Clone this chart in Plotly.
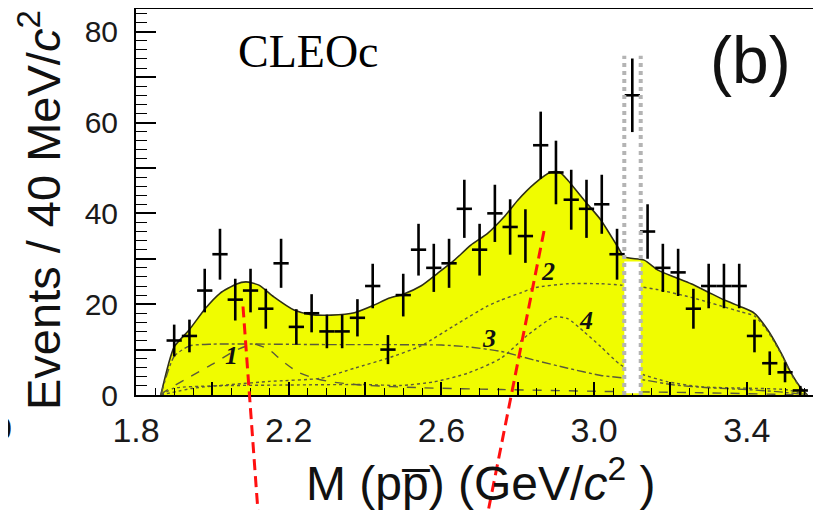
import plotly.graph_objects as go

# ---------------- data ----------------
bin_centers = [1.90, 1.94, 1.98, 2.02, 2.06, 2.10, 2.14, 2.18, 2.22, 2.26,
               2.30, 2.34, 2.38, 2.42, 2.46, 2.50, 2.54, 2.58, 2.62, 2.66,
               2.70, 2.74, 2.78, 2.82, 2.86, 2.90, 2.94, 2.98, 3.02, 3.06,
               3.10, 3.14, 3.18, 3.22, 3.26, 3.30, 3.34, 3.38, 3.42, 3.46,
               3.50, 3.54]
events = [12, 13, 23, 31, 21, 23, 19, 29, 15, 18,
          14, 14, 17, 24, 10, 22, 32, 28, 29, 41,
          32, 40, 37, 35, 55, 49, 43, 41, 42, 31,
          66, 36, 28, 27, 19, 24, 24, 24, 13, 7,
          5, 1]
event_errors = [3.5, 3.6, 4.8, 5.6, 4.6, 4.8, 4.4, 5.4, 3.9, 4.2,
                3.7, 3.7, 4.1, 4.9, 3.2, 4.7, 5.7, 5.3, 5.4, 6.4,
                5.7, 6.3, 6.1, 5.9, 7.4, 7.0, 6.6, 6.4, 6.5, 5.6,
                8.1, 6.0, 5.3, 5.2, 4.4, 4.9, 4.9, 4.9, 3.6, 2.6,
                2.2, 1.0]
half_bin = 0.02

fit_x = [1.865, 1.900, 1.939, 1.981, 2.020, 2.062, 2.088, 2.122, 2.161, 2.214,
         2.258, 2.311, 2.372, 2.424, 2.459, 2.503, 2.546, 2.590, 2.634, 2.677,
         2.721, 2.765, 2.800, 2.843, 2.887, 2.909, 2.931, 2.974, 3.018, 3.062,
         3.079, 3.131, 3.167, 3.210, 3.254, 3.298, 3.341, 3.385, 3.420, 3.455,
         3.490, 3.516, 3.542, 3.559]
fit_total = [0.0, 10.6, 14.3, 19.0, 22.4, 24.4, 24.9, 24.2, 21.6, 18.7,
             17.7, 17.6, 18.1, 19.8, 21.2, 22.3, 24.0, 26.8, 29.7, 33.0,
             35.6, 39.3, 42.9, 46.5, 49.1, 49.1, 47.3, 42.9, 38.5, 32.6,
             30.4, 29.7, 27.5, 26.0, 24.5, 22.7, 20.9, 19.4, 18.0, 14.3,
             9.2, 4.8, 1.5, 0.0]

comp1_x = [1.865, 1.874, 1.926, 2.005, 2.060, 2.110, 2.150, 2.180, 2.223, 2.267,
           2.311, 2.389, 2.546, 2.756, 3.018, 3.280, 3.559]
comp1_y = [0.0, 0.7, 3.3, 7.0, 9.8, 11.2, 9.9, 7.7, 5.1, 3.7,
           2.9, 2.2, 1.6, 1.2, 0.8, 0.5, 0.0]

comp2_x = [1.865, 1.950, 2.050, 2.150, 2.284, 2.372, 2.459, 2.546, 2.634, 2.721,
           2.756, 2.808, 2.843, 2.931, 3.018, 3.070, 3.122, 3.167, 3.254, 3.385,
           3.420, 3.455, 3.490, 3.516, 3.542, 3.559]
comp2_y = [0.0, 1.5, 2.3, 3.0, 3.7, 5.9, 8.1, 10.8, 15.3, 19.6,
           20.9, 22.5, 23.6, 24.5, 24.5, 24.2, 23.8, 23.2, 21.5, 18.3,
           17.4, 14.0, 9.0, 4.6, 1.4, 0.0]

comp3_x = [1.865, 1.900, 1.940, 2.000, 2.300, 2.600, 2.669, 2.756, 2.843, 2.931,
           3.018, 3.131, 3.210, 3.300, 3.400, 3.500, 3.559]
comp3_y = [0.0, 8.5, 10.8, 11.2, 11.1, 11.0, 10.6, 9.6, 7.7, 5.9,
           4.3, 3.3, 2.2, 1.6, 1.2, 0.6, 0.0]

comp4_x = [1.865, 1.900, 2.000, 2.200, 2.400, 2.494, 2.581, 2.669, 2.756, 2.826,
           2.896, 2.931, 2.974, 3.018, 3.070, 3.131, 3.193, 3.280, 3.400, 3.500,
           3.559]
comp4_y = [0.0, 1.5, 2.0, 2.2, 2.3, 2.1, 2.9, 4.8, 8.1, 13.2,
           17.2, 16.8, 13.9, 10.6, 6.6, 4.4, 2.9, 1.8, 1.5, 1.2,
           0.0]

comp_labels = ["1", "2", "3", "4"]
comp_label_x = [2.049, 2.878, 2.725, 2.979]
comp_label_y = [8.8, 27.1, 12.5, 16.5]

jpsi_window = [3.079, 3.122]
jpsi_line_top = 74.7

x_range = [1.8, 3.589]
y_range = [0, 85.0]
x_label_vals = [1.8, 2.2, 2.6, 3.0, 3.4]
x_mid_vals = [2.0, 2.4, 2.8, 3.2]
y_label_vals = [0, 20, 40, 60, 80]
y_mid_vals = [10, 30, 50, 70]

# ---------------- figure ----------------
# page has an 8px body margin: figure sized/positioned so the plot lands in place
PAGE_OFF = 8
W, H = 821 - PAGE_OFF, 510 - PAGE_OFF
ML, MR, MT, MB = 136 - PAGE_OFF, 2, 1, 115
PW, PH = W - ML - MR, H - MT - MB


def px_to_paper(px, py):
    fx, fy = px - PAGE_OFF, py - PAGE_OFF
    return (fx - ML) / PW, (H - MB - fy) / PH


FONT = "Liberation Sans"
fig = go.Figure()

fig.add_trace(go.Scatter(
    x=fit_x, y=fit_total, mode="lines",
    line=dict(color="#2e2e14", width=1.6, shape="spline", smoothing=0.6),
    fill="tozeroy", fillcolor="#f0fc00", hoverinfo="skip", showlegend=False))

comp_styles = [("dash", comp1_x, comp1_y), ("dot", comp2_x, comp2_y),
               ("dashdot", comp3_x, comp3_y), ("dot", comp4_x, comp4_y)]
for dash, cx, cy in comp_styles:
    fig.add_trace(go.Scatter(
        x=cx, y=cy, mode="lines",
        line=dict(color="#5a5a3a", width=1.4, dash=dash, shape="spline", smoothing=0.6),
        hoverinfo="skip", showlegend=False))

fig.add_trace(go.Scatter(
    x=bin_centers, y=events, mode="markers",
    marker=dict(size=1, color="black"),
    error_y=dict(type="data", array=event_errors, width=0, thickness=2.6, color="black"),
    error_x=dict(type="constant", value=half_bin, width=0, thickness=2.6, color="black"),
    showlegend=False))

# empty trace on overlay axes that carry the medium-length ticks
fig.add_trace(go.Scatter(x=[], y=[], xaxis="x2", yaxis="y2", showlegend=False, hoverinfo="skip"))

# J/psi exclusion window
fit_under = min(v for x, v in zip(fit_x, fit_total)
                if jpsi_window[0] - 0.02 <= x <= jpsi_window[1] + 0.02)
fig.add_shape(type="rect", xref="x", yref="y", x0=jpsi_window[0], x1=jpsi_window[1],
              y0=0.4, y1=fit_under - 0.3, fillcolor="white", line=dict(width=0), layer="above")
for xv in jpsi_window:
    fig.add_shape(type="line", xref="x", yref="y", x0=xv, x1=xv, y0=0, y1=jpsi_line_top,
                  line=dict(color="#b4b4b4", width=4, dash="dot"), layer="above")

# component labels
for t, lx, ly in zip(comp_labels, comp_label_x, comp_label_y):
    fig.add_annotation(x=lx, y=ly, xref="x", yref="y", text="<b><i>%s</i></b>" % t,
                       showarrow=False, font=dict(family="Liberation Serif", size=26, color="#111"))

# texts
cx, cy = px_to_paper(308, 52)
fig.add_annotation(x=cx, y=cy, xref="paper", yref="paper", text="CLEOc", showarrow=False,
                   font=dict(family="Liberation Serif", size=46, color="black"),
                   xanchor="center", yanchor="middle")
bx, by = px_to_paper(750, 60)
fig.add_annotation(x=bx, y=by, xref="paper", yref="paper", text="(b)", showarrow=False,
                   font=dict(family=FONT, size=66, color="#111"),
                   xanchor="center", yanchor="middle")
tx, ty = px_to_paper(480, 480)
fig.add_annotation(x=tx, y=ty, xref="paper", yref="paper",
                   text="M (pp\u0305) (GeV/<i>c</i><sup>2</sup> )", showarrow=False,
                   font=dict(family=FONT, size=48, color="#111"),
                   xanchor="center", yanchor="middle")
yx, yy = px_to_paper(40, 210)
fig.add_annotation(x=yx, y=yy, xref="paper", yref="paper",
                   text="Events / 40 MeV/<i>c</i><sup>2</sup>", showarrow=False, textangle=-90,
                   font=dict(family=FONT, size=47, color="#111"),
                   xanchor="center", yanchor="middle")
zx, zy = px_to_paper(14, 428)
fig.add_annotation(x=zx, y=zy, xref="paper", yref="paper", text="0", showarrow=False,
                   font=dict(family=FONT, size=34, color="#111"),
                   xanchor="right", yanchor="middle")

# red dashed guide lines
red_lines = [((243, 306.5), (258, 512)), ((544, 231), (488, 512))]
for (p0, p1) in red_lines:
    x0, y0 = px_to_paper(*p0)
    x1, y1 = px_to_paper(*p1)
    fig.add_shape(type="line", xref="paper", yref="paper", x0=x0, y0=y0, x1=x1, y1=y1,
                  line=dict(color="#ff1010", width=3, dash="11px,6px"), layer="above")

fig.update_layout(
    xaxis=dict(range=x_range, showgrid=False, zeroline=False,
               showline=True, linecolor="black", linewidth=2, mirror=True,
               ticks="inside", ticklen=13, tickwidth=1.6, tickcolor="black",
               tickvals=x_label_vals, ticktext=[f"{v:.1f}" for v in x_label_vals],
               tickfont=dict(family=FONT, size=34, color="#1a1a1a"),
               ticklabelstandoff=4,
               minor=dict(ticks="inside", dtick=0.05, tick0=1.8, ticklen=7,
                          tickwidth=1.4, tickcolor="black")),
    yaxis=dict(range=y_range, showgrid=False, zeroline=False,
               showline=True, linecolor="black", linewidth=2, mirror=True,
               ticks="inside", ticklen=20, tickwidth=1.6, tickcolor="black",
               tickvals=y_label_vals, ticktext=[str(v) for v in y_label_vals],
               tickfont=dict(family=FONT, size=30, color="#1a1a1a"),
               ticklabelstandoff=10,
               minor=dict(ticks="inside", dtick=2, tick0=0, ticklen=11,
                          tickwidth=1.4, tickcolor="black")),
    xaxis2=dict(range=x_range, overlaying="x", anchor="y", side="bottom",
                showgrid=False, zeroline=False, showline=False, showticklabels=False,
                ticks="inside", ticklen=13, tickwidth=1.6, tickcolor="black",
                tickvals=x_mid_vals),
    yaxis2=dict(range=y_range, overlaying="y", anchor="x", side="left",
                showgrid=False, zeroline=False, showline=False, showticklabels=False,
                ticks="inside", ticklen=20, tickwidth=1.6, tickcolor="black",
                tickvals=y_mid_vals),
    width=W, height=H, margin=dict(l=ML, r=MR, t=MT, b=MB, autoexpand=False),
    paper_bgcolor="white", plot_bgcolor="white", showlegend=False)

fig.write_html("out.html")
